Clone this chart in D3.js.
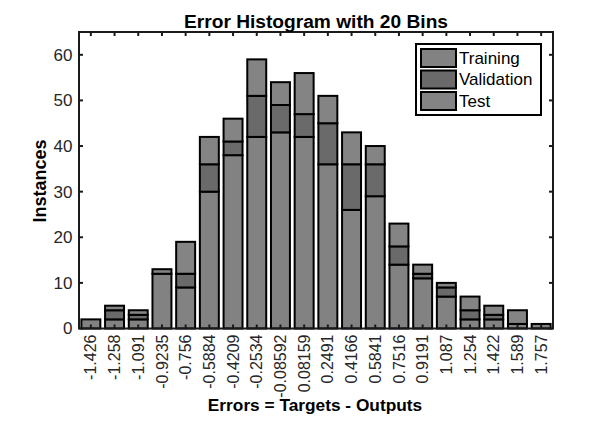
<!DOCTYPE html>
<html><head><meta charset="utf-8">
<script src="https://cdn.jsdelivr.net/npm/d3@7/dist/d3.min.js"></script>
<style>
html,body{margin:0;padding:0;background:#fff;}
svg{display:block;font-family:"Liberation Sans",Arial,sans-serif;}
</style></head>
<body>
<svg id="chart" width="612" height="428"></svg>
<script>
const binLabels = ["-1.426","-1.258","-1.091","-0.9235","-0.756","-0.5884","-0.4209","-0.2534","-0.08592","0.08159","0.2491","0.4166","0.5841","0.7516","0.9191","1.087","1.254","1.422","1.589","1.757"];
const training   = [2,2,2,12,9,30,38,42,43,42,36,26,29,14,11,7,2,2,1,1];
const validation = [0,2,1,0,3,6,3,9,6,5,9,10,7,4,1,2,2,1,0,0];
const test       = [0,1,1,1,7,6,5,8,5,9,6,7,4,5,2,1,3,2,3,0];
const seriesNames = ["Training","Validation","Test"];
const yTicks = [0,10,20,30,40,50,60];

const colors = {Training:"#828282", Validation:"#6a6a6a", Test:"#848484"};
const svg = d3.select("#chart");
const L = 79, R = 553, T = 32, B = 328.5;
const x = d3.scaleLinear().domain([-0.5, binLabels.length - 0.5]).range([L, R]);
const y = d3.scaleLinear().domain([0, 65]).range([B, T]);
const step = x(1) - x(0);
const bw = step * 0.8;

// stacked bars
const rows = binLabels.map((b, i) => ({i, Training: training[i], Validation: validation[i], Test: test[i]}));
const stack = d3.stack().keys(seriesNames)(rows);
stack.forEach(layer => {
  svg.append("g").selectAll("rect").data(layer.filter(d => d[1] > d[0])).join("rect")
    .attr("x", d => x(d.data.i) - bw / 2)
    .attr("width", bw)
    .attr("y", d => y(d[1]))
    .attr("height", d => y(d[0]) - y(d[1]))
    .attr("fill", colors[layer.key])
    .attr("stroke", "#000")
    .attr("stroke-width", 2);
});

// frame
const ax = svg.append("g").attr("stroke", "#1a1a1a").attr("stroke-width", 2);
ax.append("rect").attr("x", L).attr("y", T).attr("width", R - L).attr("height", B - T).attr("fill", "none");
// ticks
const tl = 4;
binLabels.forEach((b, i) => {
  ax.append("line").attr("x1", x(i)).attr("x2", x(i)).attr("y1", T).attr("y2", T + tl);
  ax.append("line").attr("x1", x(i)).attr("x2", x(i)).attr("y1", B).attr("y2", B - tl);
});
yTicks.forEach(v => {
  ax.append("line").attr("x1", L).attr("x2", L + tl).attr("y1", y(v)).attr("y2", y(v));
  ax.append("line").attr("x1", R).attr("x2", R - tl).attr("y1", y(v)).attr("y2", y(v));
});

// y tick labels
svg.append("g").selectAll("text").data(yTicks).join("text")
  .attr("x", 72.5).attr("y", d => y(d)).attr("dy", "0.35em")
  .attr("text-anchor", "end").attr("font-size", 17).attr("fill", "#262626")
  .text(d => d);

// x tick labels rotated
svg.append("g").selectAll("text").data(binLabels).join("text")
  .attr("transform", (d, i) => `translate(${x(i)},${B + 6}) rotate(-90)`)
  .attr("dy", "0.35em")
  .attr("text-anchor", "end").attr("font-size", 16).attr("fill", "#262626")
  .text(d => d);

// title
svg.append("text").attr("x", 316).attr("y", 27.5).attr("text-anchor", "middle")
  .attr("font-size", 17.5).attr("font-weight", "bold").attr("fill", "#000")
  .attr("textLength", 264).attr("lengthAdjust", "spacingAndGlyphs")
  .text("Error Histogram with 20 Bins");
// x label
svg.append("text").attr("x", 315).attr("y", 411).attr("text-anchor", "middle")
  .attr("font-size", 17.3).attr("font-weight", "bold").attr("fill", "#000")
  .text("Errors = Targets - Outputs");
// y label
svg.append("text").attr("transform", `translate(46,181) rotate(-90)`)
  .attr("text-anchor", "middle")
  .attr("font-size", 18).attr("font-weight", "bold").attr("fill", "#000")
  .text("Instances");

// legend
const lg = svg.append("g");
lg.append("rect").attr("x", 416).attr("y", 44).attr("width", 125).attr("height", 71)
  .attr("fill", "#fff").attr("stroke", "#000").attr("stroke-width", 2);
seriesNames.forEach((s, k) => {
  const yy = 49 + k * 21.5;
  lg.append("rect").attr("x", 421).attr("y", yy).attr("width", 35).attr("height", 18)
    .attr("fill", colors[s]).attr("stroke", "#000").attr("stroke-width", 2);
  lg.append("text").attr("x", 459).attr("y", yy + 9).attr("dy", "0.35em")
    .attr("font-size", 17).attr("fill", "#000").text(s);
});
</script>
</body></html>
